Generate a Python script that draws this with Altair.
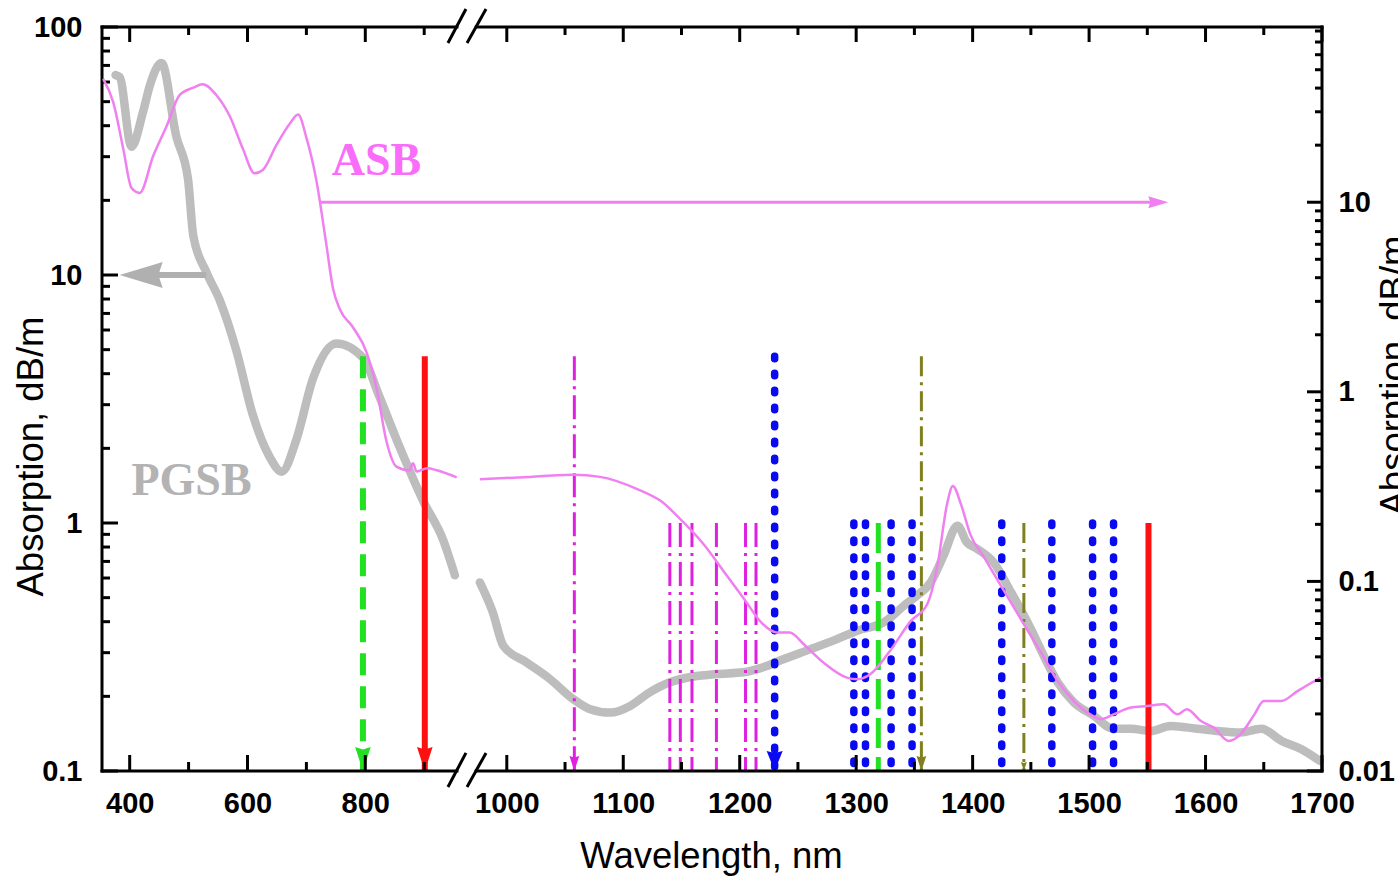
import altair as alt
import pandas as pd

# ---------------- data ----------------
# PGSB (grey, left axis)
PGSB_L_WL = [376, 383, 403, 423, 434, 454, 479, 499, 508, 530, 553, 581, 609, 638, 658,
             683, 711, 751, 796, 824, 858, 898, 932, 947]
PGSB_L_VAL = [64.0, 62.8, 32.9, 45.8, 57.8, 71.6, 36.3, 24.4, 14.4, 10.3, 7.9, 4.97, 2.73,
              1.84, 1.61, 2.17, 3.81, 5.30, 4.64, 3.23, 2.03, 1.23, 0.856, 0.615]
PGSB_R_WL = [975, 988, 997, 1017, 1037, 1057, 1071, 1089, 1106, 1123, 1140, 1157, 1180,
             1203, 1220, 1238, 1261, 1284, 1301, 1324, 1341, 1352, 1364, 1375, 1387, 1395,
             1404, 1418, 1433, 1450, 1461, 1473, 1487, 1504, 1521, 1536, 1553, 1570, 1593,
             1610, 1630, 1648, 1665, 1682, 1698]
PGSB_R_VAL = [0.576, 0.436, 0.320, 0.274, 0.235, 0.195, 0.178, 0.172, 0.183, 0.208, 0.228,
              0.239, 0.246, 0.250, 0.262, 0.283, 0.310, 0.341, 0.368, 0.398, 0.464, 0.509,
              0.576, 0.738, 0.975, 0.836, 0.786, 0.694, 0.526, 0.374, 0.292, 0.228, 0.189,
              0.167, 0.148, 0.148, 0.145, 0.152, 0.148, 0.145, 0.143, 0.148, 0.1325, 0.1227,
              0.110]

# ASB (violet, right axis)
ASB_L_WL = [355, 372, 389, 403, 417, 440, 462, 485, 508, 524, 547, 570, 592, 612, 626, 649,
            672, 686, 700, 717, 734, 745, 757, 779, 802, 819, 836, 853, 875, 881, 887, 905,
            921, 949]
ASB_L_VAL = [44.7, 33.7, 19.2, 11.9, 11.2, 17.6, 24.9, 36.8, 40.2, 41.9, 36.8, 28.4, 19.2,
             14.2, 14.8, 20.0, 26.0, 29.0, 21.9, 13.0, 5.94, 3.53, 2.72, 2.19, 1.62, 1.05,
             0.547, 0.403, 0.385, 0.42, 0.38, 0.395, 0.386, 0.354]
ASB_R_WL = [975, 1008, 1057, 1080, 1112, 1132, 1152, 1169, 1186, 1203, 1220, 1232, 1243,
            1255, 1272, 1292, 1301, 1312, 1329, 1347, 1361, 1370, 1378, 1383, 1390, 1398,
            1410, 1427, 1444, 1458, 1473, 1487, 1501, 1510, 1521, 1536, 1550, 1564, 1576,
            1584, 1596, 1607, 1620, 1630, 1642, 1650, 1665, 1679, 1691, 1699]
ASB_R_VAL = [0.346, 0.353, 0.365, 0.356, 0.307, 0.266, 0.204, 0.157, 0.1136, 0.0821, 0.0594,
             0.0537, 0.0537, 0.0466, 0.0373, 0.0311, 0.0305, 0.0324, 0.0430, 0.0619, 0.0758,
             0.123, 0.255, 0.319, 0.255, 0.177, 0.1335, 0.0891, 0.0594, 0.0430, 0.0298,
             0.0234, 0.0199, 0.01875, 0.0199, 0.0216, 0.0220, 0.0225, 0.0199, 0.0212, 0.01835,
             0.01693, 0.0144, 0.0156, 0.0199, 0.0234, 0.0234, 0.0264, 0.0292, 0.0311]

# laser / pump wavelength markers (nm)
GREEN_ARROW_WL = [796]
RED_ARROW_WL = [901]
MAGENTA_ARROW_WL = [1058]
BLUE_ARROW_WL = [1230]
OLIVE_ARROW_WL = [1356]
MAGENTA_LINES_WL = [1140, 1149, 1159, 1180, 1205, 1214]
BLUE_LINES_WL = [1298, 1308, 1330, 1348, 1425, 1468, 1503, 1521]
GREEN_LINES_WL = [1319]
OLIVE_LINES_WL = [1444]
RED_LINES_WL = [1551]
ARROW_TOP = 4.7      # left-axis value where the tall markers start
LINE_TOP = 1.0       # left-axis value where the short markers start
BOTTOM = 0.1

# axis-pointer arrows
GREY_ARROW_WL = [530, 420]
GREY_ARROW_TIP = 383
GREY_ARROW_VAL = 10
PINK_ARROW_WL = [723, 1556]
PINK_ARROW_TIP = 1568
PINK_ARROW_VAL = 10

LABELS = ["ASB", "PGSB"]
LABEL_WL = [819, 505]
LABEL_VAL = [28.8, 1.48]

# axes
X_DOMAIN = [353, 937, 983, 1700]        # broken axis: compressed 353-937, gap, 983-1700
X_LABELS = [400, 600, 800, 1000, 1100, 1200, 1300, 1400, 1500, 1600, 1700]
X_MAJOR = [400, 600, 800, 1000, 1100, 1200, 1300, 1400, 1500, 1600, 1700]
X_MINOR = [500, 700, 900, 1050, 1150, 1250, 1350, 1450, 1550, 1650]
BREAK_L, BREAK_R = 949.3, 970.9
YL_DOMAIN = [0.1, 100]
YL_MAJOR = [0.1, 1, 10, 100]
YL_MINOR = [k * 10.0 ** e for e in (-1, 0, 1) for k in range(2, 10)]
YR_DOMAIN = [0.01, 84]
YR_MAJOR = [0.01, 0.1, 1, 10]
YR_MINOR = [k * 10.0 ** e for e in (-2, -1, 0, 1) for k in range(2, 10) if k * 10.0 ** e < 84]

# ---------------- styling ----------------
W, H = 1220, 744
FONT = "Liberation Sans"
GREY = "#bdbdbd"
GREY_ARROW = "#b0b0b0"
VIOLET = "#f080f0"
VIOLET_LABEL = "#fa6cfa"
MAGENTA = "#e020e0"
BLUE = "#0a0af0"
GREEN = "#22e022"
RED = "#ff1010"
OLIVE = "#808020"

X_SCALE = alt.Scale(domain=X_DOMAIN, range=[0, 344, 385, W], zero=False, nice=False)
X_AXIS = alt.Axis(values=X_LABELS, format="d", orient="bottom", title="Wavelength, nm",
                  ticks=False, tickSize=0, domain=False, grid=False,
                  labelFont=FONT, labelFontWeight="bold", labelFontSize=29,
                  labelColor="black", labelPadding=18, labelFlush=False,
                  labelOverlap=False, titleFont=FONT, titleFontWeight="normal",
                  titleFontSize=36.5, titleColor="black", titleX=609, titleY=96,
                  titleBaseline="alphabetic", titleAlign="center")
YL_SCALE = alt.Scale(type="log", domain=YL_DOMAIN, nice=False)
YL_AXIS = alt.Axis(values=YL_MAJOR, format="~g", orient="left", title="Absorption, dB/m",
                   ticks=False, tickSize=0, domain=False, grid=False,
                   labelFont=FONT, labelFontWeight="bold", labelFontSize=29,
                   labelColor="black", labelPadding=20, labelFlush=False,
                   labelOverlap=False, titleFont=FONT, titleFontWeight="normal",
                   titleFontSize=36.5, titleColor="black", titleAngle=270,
                   titleX=-60, titleY=429, titleBaseline="alphabetic", titleAlign="center")
YR_SCALE = alt.Scale(type="log", domain=YR_DOMAIN, nice=False)
YR_AXIS = alt.Axis(values=YR_MAJOR, format="~g", orient="right", title="Absorption, dB/m",
                   ticks=False, tickSize=0, domain=False, grid=False,
                   labelFont=FONT, labelFontWeight="bold", labelFontSize=29,
                   labelColor="black", labelPadding=16, labelFlush=False,
                   labelOverlap=False, titleFont=FONT, titleFontWeight="normal",
                   titleFontSize=36.5, titleColor="black", titleAngle=270,
                   titleX=83, titleY=348, titleBaseline="alphabetic", titleAlign="center")


def X(field="wl"):
    return alt.X(f"{field}:Q", scale=X_SCALE, axis=X_AXIS)


def YL(field="v"):
    return alt.Y(f"{field}:Q", scale=YL_SCALE, axis=YL_AXIS)


def YR(field="v"):
    return alt.Y(f"{field}:Q", scale=YR_SCALE, axis=YR_AXIS)


DOWN = "M0,0L-0.65,-2L0,-1.8L0.65,-2Z"
DOWN_WIDE = "M0,0L-0.8,-2L0,-1.8L0.8,-2Z"
LEFT = "M0,0L2,-0.6L1.8,0L2,0.6Z"
RIGHT = "M0,0L-2,-0.6L-1.8,0L-2,0.6Z"


def vlines(wls, top, color, width, dash=None, cap="butt"):
    df = pd.DataFrame({"wl": wls, "top": [top] * len(wls), "bottom": [BOTTOM] * len(wls)})
    kw = dict(color=color, strokeWidth=width, strokeCap=cap)
    if dash:
        kw["strokeDash"] = dash
    return alt.Chart(df).mark_rule(**kw).encode(x=X(), y=YL("top"), y2="bottom")


def heads(wls, color, size, shape=DOWN):
    df = pd.DataFrame({"wl": wls, "v": [BOTTOM] * len(wls)})
    return alt.Chart(df).mark_point(shape=shape, size=size, filled=True, color=color,
                                    opacity=1, strokeWidth=0).encode(x=X(), y=YL())


# ---------------- left-axis group ----------------
pgsb = pd.DataFrame({
    "wl": PGSB_L_WL + PGSB_R_WL,
    "v": PGSB_L_VAL + PGSB_R_VAL,
    "seg": ["a"] * len(PGSB_L_WL) + ["b"] * len(PGSB_R_WL),
})
pgsb_line = alt.Chart(pgsb).mark_line(color=GREY, strokeWidth=8.5, interpolate="monotone",
                                      strokeJoin="round", strokeCap="round").encode(
    x=X(), y=YL(), detail="seg:N")

grey_shaft = alt.Chart(pd.DataFrame({"wl": [GREY_ARROW_WL[0]], "wl2": [GREY_ARROW_WL[1]],
                                     "v": [GREY_ARROW_VAL]})).mark_rule(
    color=GREY_ARROW, strokeWidth=6).encode(x=X(), x2="wl2", y=YL())
grey_head = alt.Chart(pd.DataFrame({"wl": [GREY_ARROW_TIP], "v": [GREY_ARROW_VAL]})).mark_point(
    shape=LEFT, size=1849, filled=True, color=GREY_ARROW, opacity=1, strokeWidth=0).encode(
    x=X(), y=YL())

labels = alt.Chart(pd.DataFrame({"wl": LABEL_WL, "v": LABEL_VAL, "t": LABELS})).mark_text(
    font="Liberation Serif", fontWeight="bold", fontSize=46, align="center",
    baseline="middle").encode(
    x=X(), y=YL(), text="t:N",
    color=alt.Color("t:N", scale=alt.Scale(domain=LABELS, range=[VIOLET_LABEL, "#b3b3b3"]),
                    legend=None))

markers = [
    vlines(MAGENTA_LINES_WL, LINE_TOP, MAGENTA, 3, [24, 6, 3, 6]),
    vlines(BLUE_LINES_WL, LINE_TOP, BLUE, 7.5, [2.5, 14.5], "round"),
    vlines(GREEN_LINES_WL, LINE_TOP, GREEN, 5, [30, 9]),
    vlines(OLIVE_LINES_WL, LINE_TOP, OLIVE, 3, [20, 6, 3, 6]),
    vlines(RED_LINES_WL, LINE_TOP, RED, 6),
    heads(OLIVE_LINES_WL, OLIVE, 81),
    vlines(GREEN_ARROW_WL, ARROW_TOP, GREEN, 6, [22, 11]),
    heads(GREEN_ARROW_WL, GREEN, 576),
    vlines(RED_ARROW_WL, ARROW_TOP, RED, 6),
    heads(RED_ARROW_WL, RED, 576),
    vlines(MAGENTA_ARROW_WL, ARROW_TOP, MAGENTA, 3, [24, 6, 3, 6]),
    heads(MAGENTA_ARROW_WL, MAGENTA, 225),
    vlines(BLUE_ARROW_WL, ARROW_TOP, BLUE, 7.5, [2.5, 14.5], "round"),
    heads(BLUE_ARROW_WL, BLUE, 400, DOWN_WIDE),
    vlines(OLIVE_ARROW_WL, ARROW_TOP, OLIVE, 3, [20, 6, 3, 6]),
    heads(OLIVE_ARROW_WL, OLIVE, 225),
]

# frame with axis break
frame_df = pd.DataFrame({
    "wl": [X_DOMAIN[0], X_DOMAIN[-1], X_DOMAIN[0], BREAK_R, X_DOMAIN[0], BREAK_R],
    "wl2": [X_DOMAIN[0], X_DOMAIN[-1], BREAK_L, X_DOMAIN[-1], BREAK_L, X_DOMAIN[-1]],
    "v": [YL_DOMAIN[0], YL_DOMAIN[0], YL_DOMAIN[0], YL_DOMAIN[0], YL_DOMAIN[1], YL_DOMAIN[1]],
    "v2": [YL_DOMAIN[1], YL_DOMAIN[1], YL_DOMAIN[0], YL_DOMAIN[0], YL_DOMAIN[1], YL_DOMAIN[1]],
})
frame = alt.Chart(frame_df).mark_rule(color="black", strokeWidth=3, strokeCap="square").encode(
    x=X(), x2="wl2", y=YL(), y2="v2")
slash_df = pd.DataFrame({
    "wl": [939.2, 960.6, 939.2, 960.6],
    "wl2": [959.4, 981.9, 959.4, 981.9],
    "v": [0.0862, 0.0862, 86.2, 86.2],
    "v2": [0.1183, 0.1183, 118.2, 118.2],
})
slashes = alt.Chart(slash_df).mark_rule(color="black", strokeWidth=3).encode(
    x=X(), x2="wl2", y=YL(), y2="v2")

xt_major = pd.DataFrame({"wl": X_MAJOR})
xt_minor = pd.DataFrame({"wl": X_MINOR})
xticks = [
    alt.Chart(xt_major).mark_rule(color="black", strokeWidth=3).encode(
        x=X(), y=alt.value(H), y2=alt.value(H - 16)),
    alt.Chart(xt_minor).mark_rule(color="black", strokeWidth=3).encode(
        x=X(), y=alt.value(H), y2=alt.value(H - 9)),
    alt.Chart(xt_major).mark_rule(color="black", strokeWidth=3).encode(
        x=X(), y=alt.value(0), y2=alt.value(15)),
    alt.Chart(xt_minor).mark_rule(color="black", strokeWidth=3).encode(
        x=X(), y=alt.value(0), y2=alt.value(8)),
]
ylticks = [
    alt.Chart(pd.DataFrame({"v": YL_MAJOR})).mark_rule(color="black", strokeWidth=3).encode(
        y=YL(), x=alt.value(0), x2=alt.value(16)),
    alt.Chart(pd.DataFrame({"v": YL_MINOR})).mark_rule(color="black", strokeWidth=3).encode(
        y=YL(), x=alt.value(0), x2=alt.value(8)),
]

left_group = alt.layer(pgsb_line, grey_shaft, grey_head, *markers, labels,
                       frame, slashes, *xticks, *ylticks)

# ---------------- right-axis group ----------------
asb = pd.DataFrame({
    "wl": ASB_L_WL + ASB_R_WL,
    "v": ASB_L_VAL + ASB_R_VAL,
    "seg": ["a"] * len(ASB_L_WL) + ["b"] * len(ASB_R_WL),
})
asb_line = alt.Chart(asb).mark_line(color=VIOLET, strokeWidth=2.5, interpolate="monotone").encode(
    x=X(), y=YR(), detail="seg:N")
pink_shaft = alt.Chart(pd.DataFrame({"wl": [PINK_ARROW_WL[0]], "wl2": [PINK_ARROW_WL[1]],
                                     "v": [PINK_ARROW_VAL]})).mark_rule(
    color=VIOLET, strokeWidth=3).encode(x=X(), x2="wl2", y=YR())
pink_head = alt.Chart(pd.DataFrame({"wl": [PINK_ARROW_TIP], "v": [PINK_ARROW_VAL]})).mark_point(
    shape=RIGHT, size=400, filled=True, color=VIOLET, opacity=1, strokeWidth=0).encode(
    x=X(), y=YR())
yrticks = [
    alt.Chart(pd.DataFrame({"v": YR_MAJOR})).mark_rule(color="black", strokeWidth=3).encode(
        y=YR(), x=alt.value(W), x2=alt.value(W - 15)),
    alt.Chart(pd.DataFrame({"v": YR_MINOR})).mark_rule(color="black", strokeWidth=3).encode(
        y=YR(), x=alt.value(W), x2=alt.value(W - 7)),
]
right_group = alt.layer(asb_line, pink_shaft, pink_head, *yrticks)

chart = alt.layer(left_group, right_group).resolve_scale(y="independent").properties(
    width=W, height=H,
    padding={"left": 102, "top": 27, "right": 76, "bottom": 109},
    autosize=alt.AutoSizeParams(type="none"),
    background="white",
).configure_view(stroke=None)

chart.save("out.html", embed_options={"renderer": "svg", "actions": False})
